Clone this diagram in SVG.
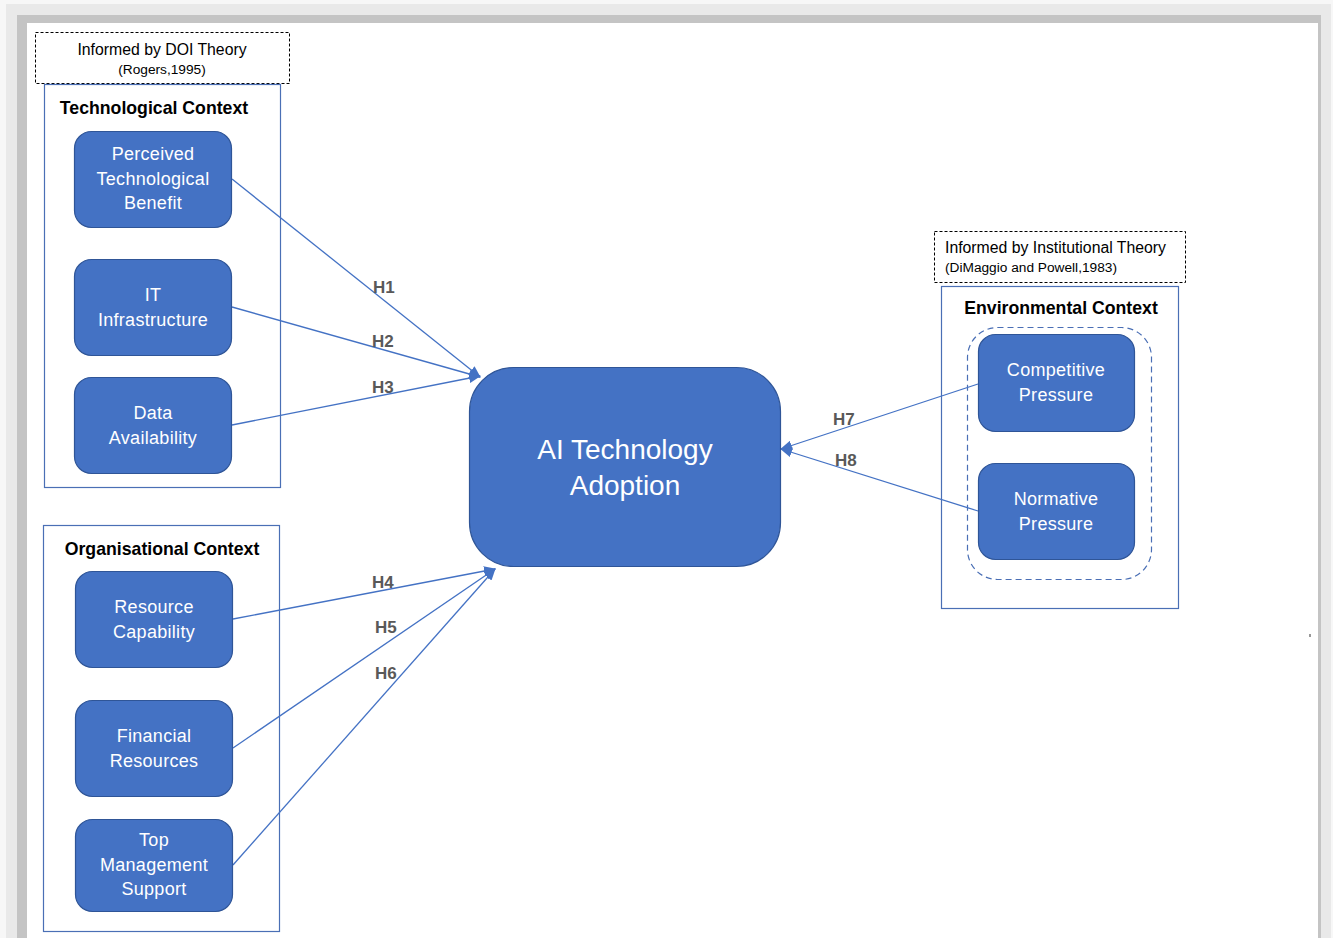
<svg xmlns="http://www.w3.org/2000/svg" width="1333" height="938" viewBox="0 0 1333 938">
  <style>
    .node { fill: #4472C4; stroke: #2F5597; stroke-width: 1.2; }
    .ctx { fill: none; stroke: #4A6FB5; stroke-width: 1.2; }
    .note { fill: #ffffff; stroke: #000000; stroke-width: 1; stroke-dasharray: 3 2; }
    .nt { font-family: "Liberation Sans", Arial, sans-serif; font-size: 18px; letter-spacing: 0.3px; fill: #ffffff; text-anchor: middle; }
    .big { font-family: "Liberation Sans", Arial, sans-serif; font-size: 28px; fill: #ffffff; text-anchor: middle; }
    .title { font-family: "Liberation Sans", Arial, sans-serif; font-size: 17.7px; font-weight: bold; fill: #000000; text-anchor: middle; }
    .inf { font-family: "Liberation Sans", Arial, sans-serif; font-size: 15.8px; fill: #000000; }
    .ref { font-family: "Liberation Sans", Arial, sans-serif; font-size: 13.7px; fill: #000000; }
    .hl { font-family: "Liberation Sans", Arial, sans-serif; font-size: 17px; font-weight: bold; fill: #595959; }
    .conn line { stroke: #4472C4; stroke-width: 1.3; }
  </style>
  <defs>
    <marker id="arrow" viewBox="0 0 12 10" refX="11" refY="5" markerWidth="12" markerHeight="10" markerUnits="userSpaceOnUse" orient="auto">
      <path d="M0,0 L12,5 L0,10 Z" fill="#4472C4"/>
    </marker>
  </defs>

  <!-- page frame with soft shadow -->
  <rect x="0" y="0" width="1333" height="938" fill="#f7f7f7"/>
  <rect x="6" y="4" width="1325" height="934" fill="#e9e9e9"/>
  <rect x="17" y="15" width="1304" height="923" fill="#c4c4c4"/>
  <rect x="27" y="23" width="1291" height="915" fill="#ffffff"/>
  <rect x="1309" y="634" width="2" height="3" fill="#999999"/>

  <!-- theory notes -->
  <g id="note-doi">
    <rect class="note" x="35.5" y="32.5" width="254" height="51"/>
    <text class="inf" x="162" y="55" text-anchor="middle">Informed by DOI Theory</text>
    <text class="ref" x="162" y="74" text-anchor="middle">(Rogers,1995)</text>
  </g>
  <g id="note-institutional">
    <rect class="note" x="934.5" y="231.5" width="251" height="51"/>
    <text class="inf" x="945" y="253">Informed by Institutional Theory</text>
    <text class="ref" x="945" y="272">(DiMaggio and Powell,1983)</text>
  </g>

  <!-- context frames -->
  <g id="ctx-technological">
    <rect class="ctx" x="44.5" y="84.5" width="236" height="403"/>
    <text class="title" x="154" y="114">Technological Context</text>
  </g>
  <g id="ctx-organisational">
    <rect class="ctx" x="43.5" y="525.5" width="236" height="406"/>
    <text class="title" x="162" y="555">Organisational Context</text>
  </g>
  <g id="ctx-environmental">
    <rect class="ctx" x="941.5" y="286.5" width="237" height="322"/>
    <text class="title" x="1061" y="314">Environmental Context</text>
    <rect x="967.5" y="327.5" width="184" height="252" rx="30" fill="none" stroke="#4A6FB5" stroke-width="1.2" stroke-dasharray="6 4"/>
  </g>

  <!-- connectors -->
  <g id="connectors" class="conn">
    <line x1="232" y1="179" x2="480" y2="377" marker-end="url(#arrow)"/>
    <line x1="232" y1="307" x2="480" y2="377" marker-end="url(#arrow)"/>
    <line x1="232" y1="425" x2="480" y2="376" marker-end="url(#arrow)"/>
    <line x1="233" y1="619" x2="495" y2="569" marker-end="url(#arrow)"/>
    <line x1="233" y1="748" x2="495" y2="569" marker-end="url(#arrow)"/>
    <line x1="233" y1="865" x2="495" y2="569" marker-end="url(#arrow)"/>
    <line x1="978" y1="384" x2="781" y2="449" marker-end="url(#arrow)"/>
    <line x1="978" y1="511" x2="781" y2="449" marker-end="url(#arrow)"/>
    <text class="hl" x="373" y="293">H1</text>
    <text class="hl" x="372" y="347">H2</text>
    <text class="hl" x="372" y="393">H3</text>
    <text class="hl" x="372" y="588">H4</text>
    <text class="hl" x="375" y="633">H5</text>
    <text class="hl" x="375" y="679">H6</text>
    <text class="hl" x="833" y="425">H7</text>
    <text class="hl" x="835" y="466">H8</text>
  </g>

  <!-- technological factors -->
  <g id="perceived-benefit">
    <rect class="node" x="74.5" y="131.5" width="157" height="96" rx="17"/>
    <text class="nt" x="153" y="160">Perceived</text>
    <text class="nt" x="153" y="185">Technological</text>
    <text class="nt" x="153" y="209">Benefit</text>
  </g>
  <g id="it-infrastructure">
    <rect class="node" x="74.5" y="259.5" width="157" height="96" rx="17"/>
    <text class="nt" x="153" y="301">IT</text>
    <text class="nt" x="153" y="326">Infrastructure</text>
  </g>
  <g id="data-availability">
    <rect class="node" x="74.5" y="377.5" width="157" height="96" rx="17"/>
    <text class="nt" x="153" y="419">Data</text>
    <text class="nt" x="153" y="444">Availability</text>
  </g>

  <!-- organisational factors -->
  <g id="resource-capability">
    <rect class="node" x="75.5" y="571.5" width="157" height="96" rx="17"/>
    <text class="nt" x="154" y="613">Resource</text>
    <text class="nt" x="154" y="638">Capability</text>
  </g>
  <g id="financial-resources">
    <rect class="node" x="75.5" y="700.5" width="157" height="96" rx="17"/>
    <text class="nt" x="154" y="742">Financial</text>
    <text class="nt" x="154" y="767">Resources</text>
  </g>
  <g id="top-management">
    <rect class="node" x="75.5" y="819.5" width="157" height="92" rx="17"/>
    <text class="nt" x="154" y="846">Top</text>
    <text class="nt" x="154" y="871">Management</text>
    <text class="nt" x="154" y="895">Support</text>
  </g>

  <!-- environmental factors -->
  <g id="competitive-pressure">
    <rect class="node" x="978.5" y="334.5" width="156" height="97" rx="17"/>
    <text class="nt" x="1056" y="376">Competitive</text>
    <text class="nt" x="1056" y="401">Pressure</text>
  </g>
  <g id="normative-pressure">
    <rect class="node" x="978.5" y="463.5" width="156" height="96" rx="17"/>
    <text class="nt" x="1056" y="505">Normative</text>
    <text class="nt" x="1056" y="530">Pressure</text>
  </g>

  <!-- outcome -->
  <g id="ai-adoption">
    <rect class="node" x="469.5" y="367.5" width="311" height="199" rx="44"/>
    <text class="big" x="625" y="459">AI Technology</text>
    <text class="big" x="625" y="495">Adoption</text>
  </g>
</svg>
